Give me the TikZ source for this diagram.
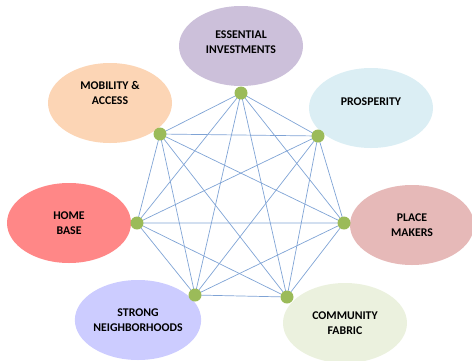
\documentclass[tikz,border=0pt]{standalone}
\usepackage{fontspec}
\setmainfont{Carlito}
\usetikzlibrary{shapes.geometric}

\definecolor{invcol}{HTML}{CCC0DA}
\definecolor{mobcol}{HTML}{FCD5B5}
\definecolor{procol}{HTML}{DBEEF4}
\definecolor{homecol}{HTML}{FF8787}
\definecolor{placecol}{HTML}{E6B9B8}
\definecolor{strongcol}{HTML}{CCCCFF}
\definecolor{commcol}{HTML}{EBF1DE}
\definecolor{dotcol}{HTML}{9BBB59}
\definecolor{linkcol}{HTML}{7FA3D5}

\begin{document}
\begin{tikzpicture}[x=1pt,y=-1pt]
\tikzset{
    goal/.style={ellipse, draw=none, minimum width=124pt, minimum height=80pt,
        inner sep=0pt, align=center, font=\bfseries\fontsize{11.8}{15}\selectfont},
    hub/.style={circle, fill=dotcol, minimum size=13pt, inner sep=0pt},
    link/.style={draw=linkcol, line width=0.7pt}
}
\useasboundingbox (0,0) rectangle (472,360);
% Goals
\node[goal, fill=invcol, text depth=7pt] (inv) at (241,46){ESSENTIAL\\INVESTMENTS};
\node[goal, fill=mobcol, text depth=20pt] (mob) at (110,103){MOBILITY \&\\ACCESS};
\node[goal, fill=procol, text depth=12pt] (pro) at (371,108){PROSPERITY};
\node[goal, fill=homecol] (home) at (69,223){HOME\\BASE};
\node[goal, fill=placecol] (place) at (412,225){PLACE\\MAKERS};
\node[goal, fill=strongcol] (strong) at (138,320){STRONG\\NEIGHBORHOODS};
\node[goal, fill=commcol] (comm) at (345,323){COMMUNITY\\FABRIC};
% Hubs
\coordinate (dinv) at (241,93);
\coordinate (dmob) at (160,134);
\coordinate (dpro) at (318,136);
\coordinate (dhome) at (137,223);
\coordinate (dplace) at (344,223);
\coordinate (dstrong) at (195,295);
\coordinate (dcomm) at (287,297);
% Links
\draw[link] (dinv)--(dmob) (dinv)--(dpro) (dinv)--(dhome) (dinv)--(dplace) (dinv)--(dstrong) (dinv)--(dcomm);
\draw[link] (dmob)--(dpro) (dmob)--(dhome) (dmob)--(dplace) (dmob)--(dstrong) (dmob)--(dcomm);
\draw[link] (dpro)--(dhome) (dpro)--(dplace) (dpro)--(dstrong) (dpro)--(dcomm);
\draw[link] (dhome)--(dplace) (dhome)--(dstrong) (dhome)--(dcomm);
\draw[link] (dplace)--(dstrong) (dplace)--(dcomm);
\draw[link] (dstrong)--(dcomm);
\node[hub] at (dinv){};
\node[hub] at (dmob){};
\node[hub] at (dpro){};
\node[hub] at (dhome){};
\node[hub] at (dplace){};
\node[hub] at (dstrong){};
\node[hub] at (dcomm){};
\end{tikzpicture}
\end{document}
